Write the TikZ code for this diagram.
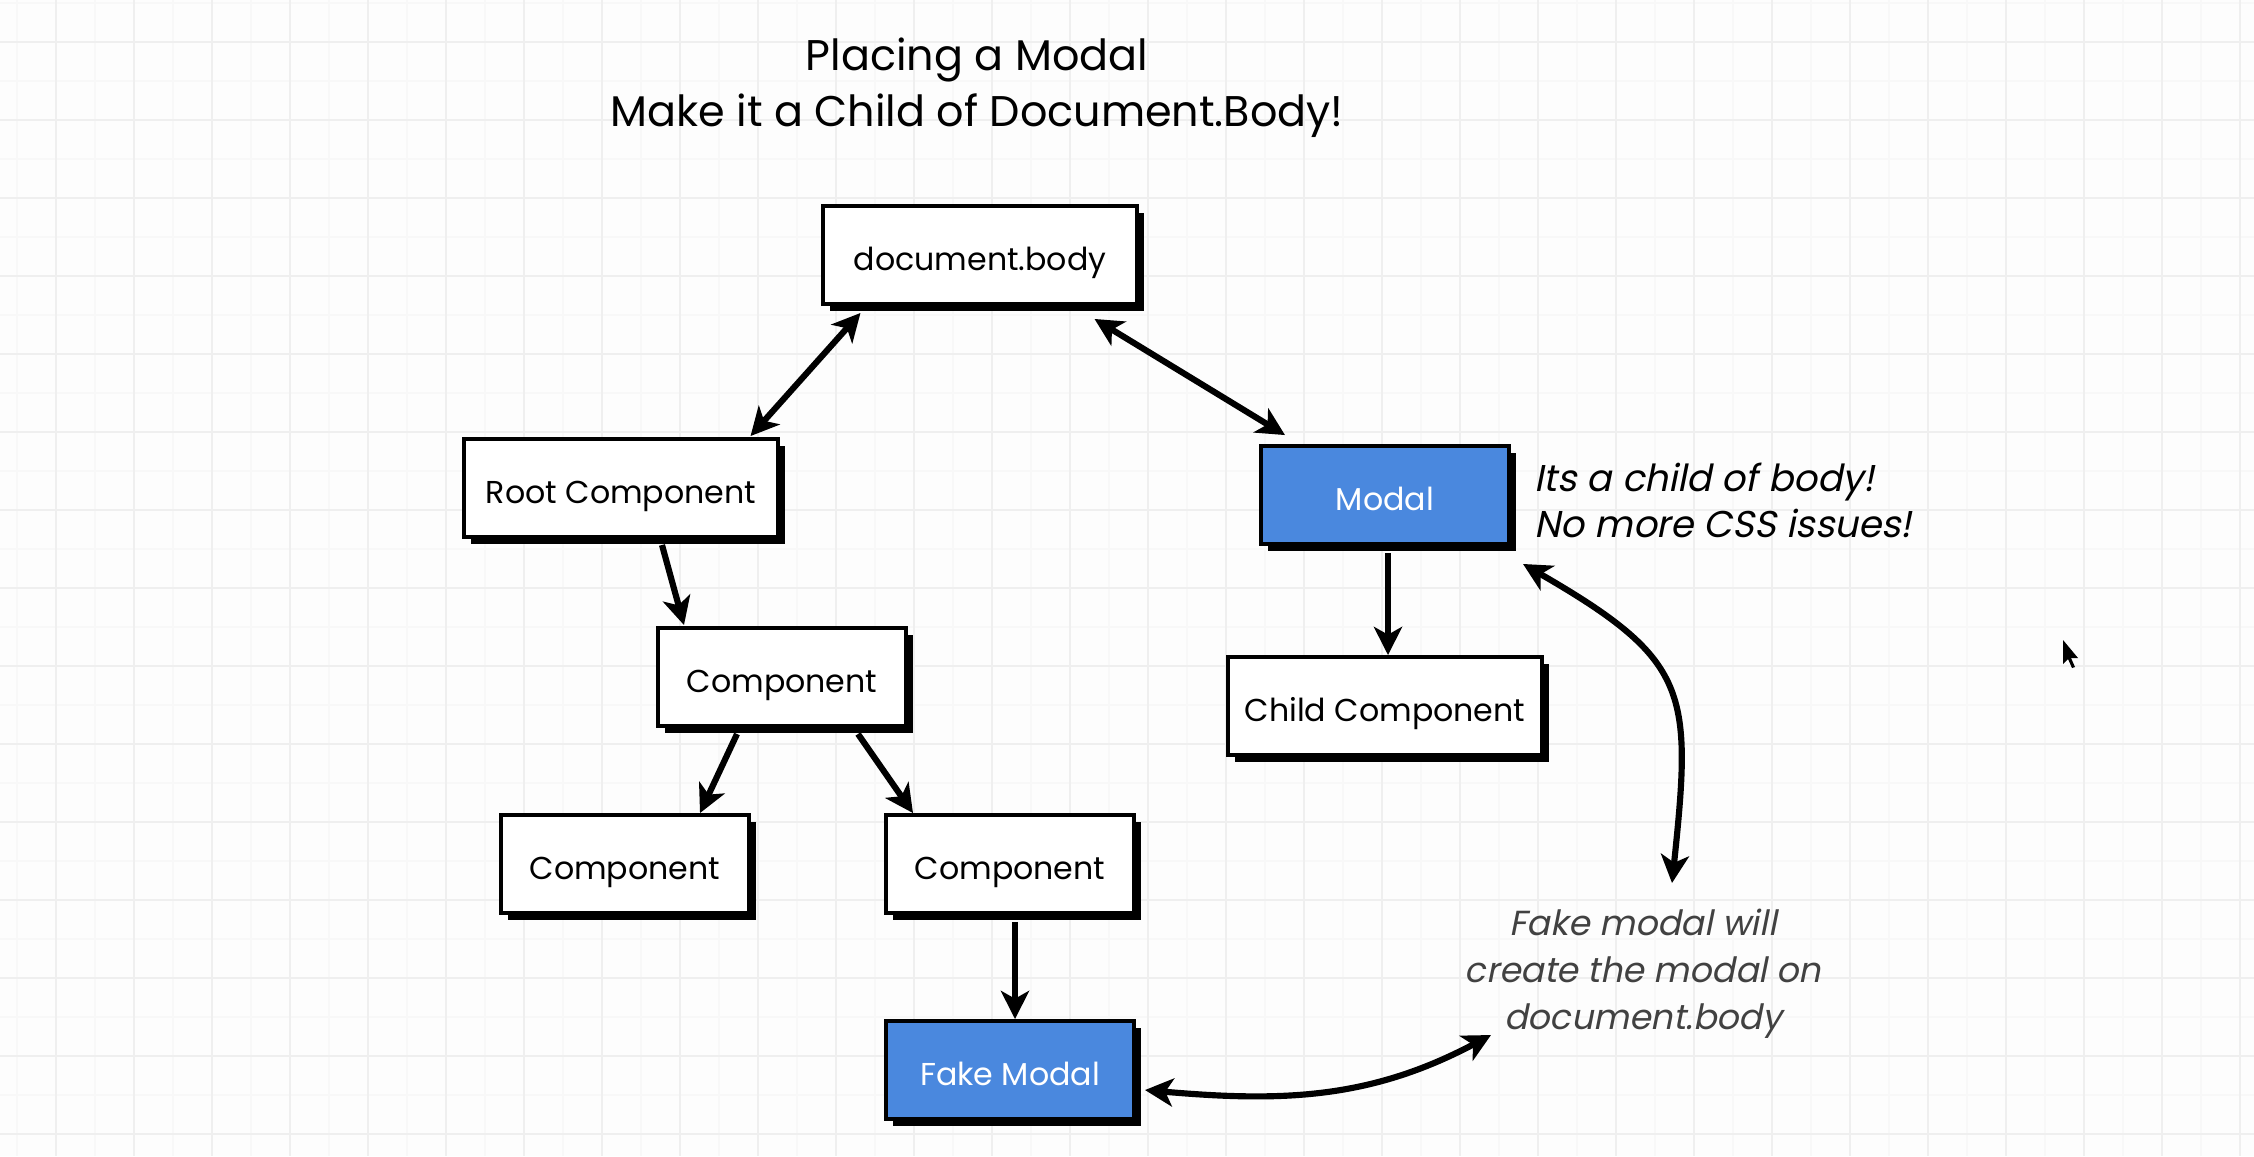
\documentclass[tikz,border=0pt]{standalone}
\usepackage{fontspec}
\setmainfont{Poppins}
\newfontfamily\annotfont{Poppins}[FakeSlant=0.2]
\usetikzlibrary{arrows.meta,shadows,calc}
\definecolor{modalblue}{RGB}{74,136,222}
\definecolor{gridmajor}{RGB}{239,239,239}
\definecolor{gridminor}{RGB}{248,248,248}
\definecolor{paper}{RGB}{253,253,253}
\definecolor{annotgray}{RGB}{65,65,65}
\tikzset{
  box/.style={draw=black, line width=1.1pt, fill=white, minimum height=0.98cm,
    inner sep=0pt, font=\fontsize{9}{10}\selectfont, text height=8.8pt, text depth=0pt,
    drop shadow={shadow xshift=2pt, shadow yshift=-2pt, fill=black, opacity=1}},
  narrowbox/.style={box, minimum width=2.48cm},
  widebox/.style={box, minimum width=3.13cm},
  bluebox/.style={fill=modalblue, text=white},
  conn/.style={line width=1.75pt, -{Stealth[length=8pt,width=8pt,inset=2.2pt]}},
  biconn/.style={line width=1.75pt, {Stealth[length=8pt,width=8pt,inset=2.2pt]}-{Stealth[length=8pt,width=8pt,inset=2.2pt]}},
  minorline/.style={draw=gridminor, line width=0.4pt},
  majorline/.style={draw=gridmajor, line width=0.6pt}
}
\begin{document}
\begin{tikzpicture}[x=0.01cm,y=-0.01cm]
\useasboundingbox (0,0) rectangle (2254,1156);
\fill[paper] (0,0) rectangle (2254,1156);
% grid
\foreach \x in {17,95,...,2254} \draw[minorline] (\x,0) -- (\x,1156);
\foreach \y in {3,81,...,1156} \draw[minorline] (0,\y) -- (2254,\y);
\foreach \x in {56,134,...,2254} \draw[majorline] (\x,0) -- (\x,1156);
\foreach \y in {42,120,...,1156} \draw[majorline] (0,\y) -- (2254,\y);

% title
\node[font=\fontsize{12.2}{16}\selectfont, align=center] (title) at (977,88)
  {Placing a Modal\\Make it a Child of Document.Body!};

% boxes
\node[widebox] (doc) at (980,255) {document.body};
\node[widebox] (root) at (621,488) {Root Component};
\node[narrowbox,bluebox] (modal) at (1385,495) {Modal};
\node[narrowbox] (comp) at (782,677) {Component};
\node[widebox] (child) at (1385,706) {Child Component};
\node[narrowbox] (compL) at (625,864) {Component};
\node[narrowbox] (compR) at (1010,864) {Component};
\node[narrowbox,bluebox] (fake) at (1010,1070) {Fake Modal};

% notes
\node[anchor=west, align=left, inner sep=0pt,
  font=\annotfont\fontsize{10.6}{13.1}\selectfont] (note1) at (1534,500)
  {Its a child of body!\\No more CSS issues!};
\node[align=center, inner sep=0pt, text=annotgray,
  font=\annotfont\fontsize{9.9}{13.4}\selectfont] (note2) at (1643,974)
  {Fake modal will\\create the modal on\\document.body};

\coordinate (curveend) at (1672,883);
\coordinate (noteend) at (1491,1035);

% connectors
\draw[biconn] ($(doc.south west)+(39,7)$) -- ($(root.north east)+(-29,-1)$);
\draw[biconn] ($(doc.south east)+(-44,13)$) -- ($(modal.north west)+(26,-9)$);
\draw[conn] ($(root.south)+(41,6)$) -- ($(comp.north west)+(28,-1)$);
\draw[conn] ($(comp.south)+(-45,6)$) -- ($(compL.north)+(75,0)$);
\draw[conn] ($(comp.south)+(76,6)$) -- ($(compR.north west)+(29,0)$);
\draw[conn] ($(compR.south)+(5,7)$) -- ($(fake.north)+(5,0)$);
\draw[conn] ($(modal.south)+(3,7)$) -- ($(child.north)+(3,0)$);
\draw[biconn] ($(modal.south east)+(12,18)$) to[out=-30,in=84,looseness=1.4] (curveend);
\draw[biconn] ($(fake.east)+(9,20)$) to[out=-5,in=208] (noteend);

% mouse pointer
\fill[black] (2063,640) -- (2063,664) -- (2068,659) -- (2072,668) -- (2075,667)
  -- (2071,658) -- (2078,658) -- cycle;
\end{tikzpicture}
\end{document}
